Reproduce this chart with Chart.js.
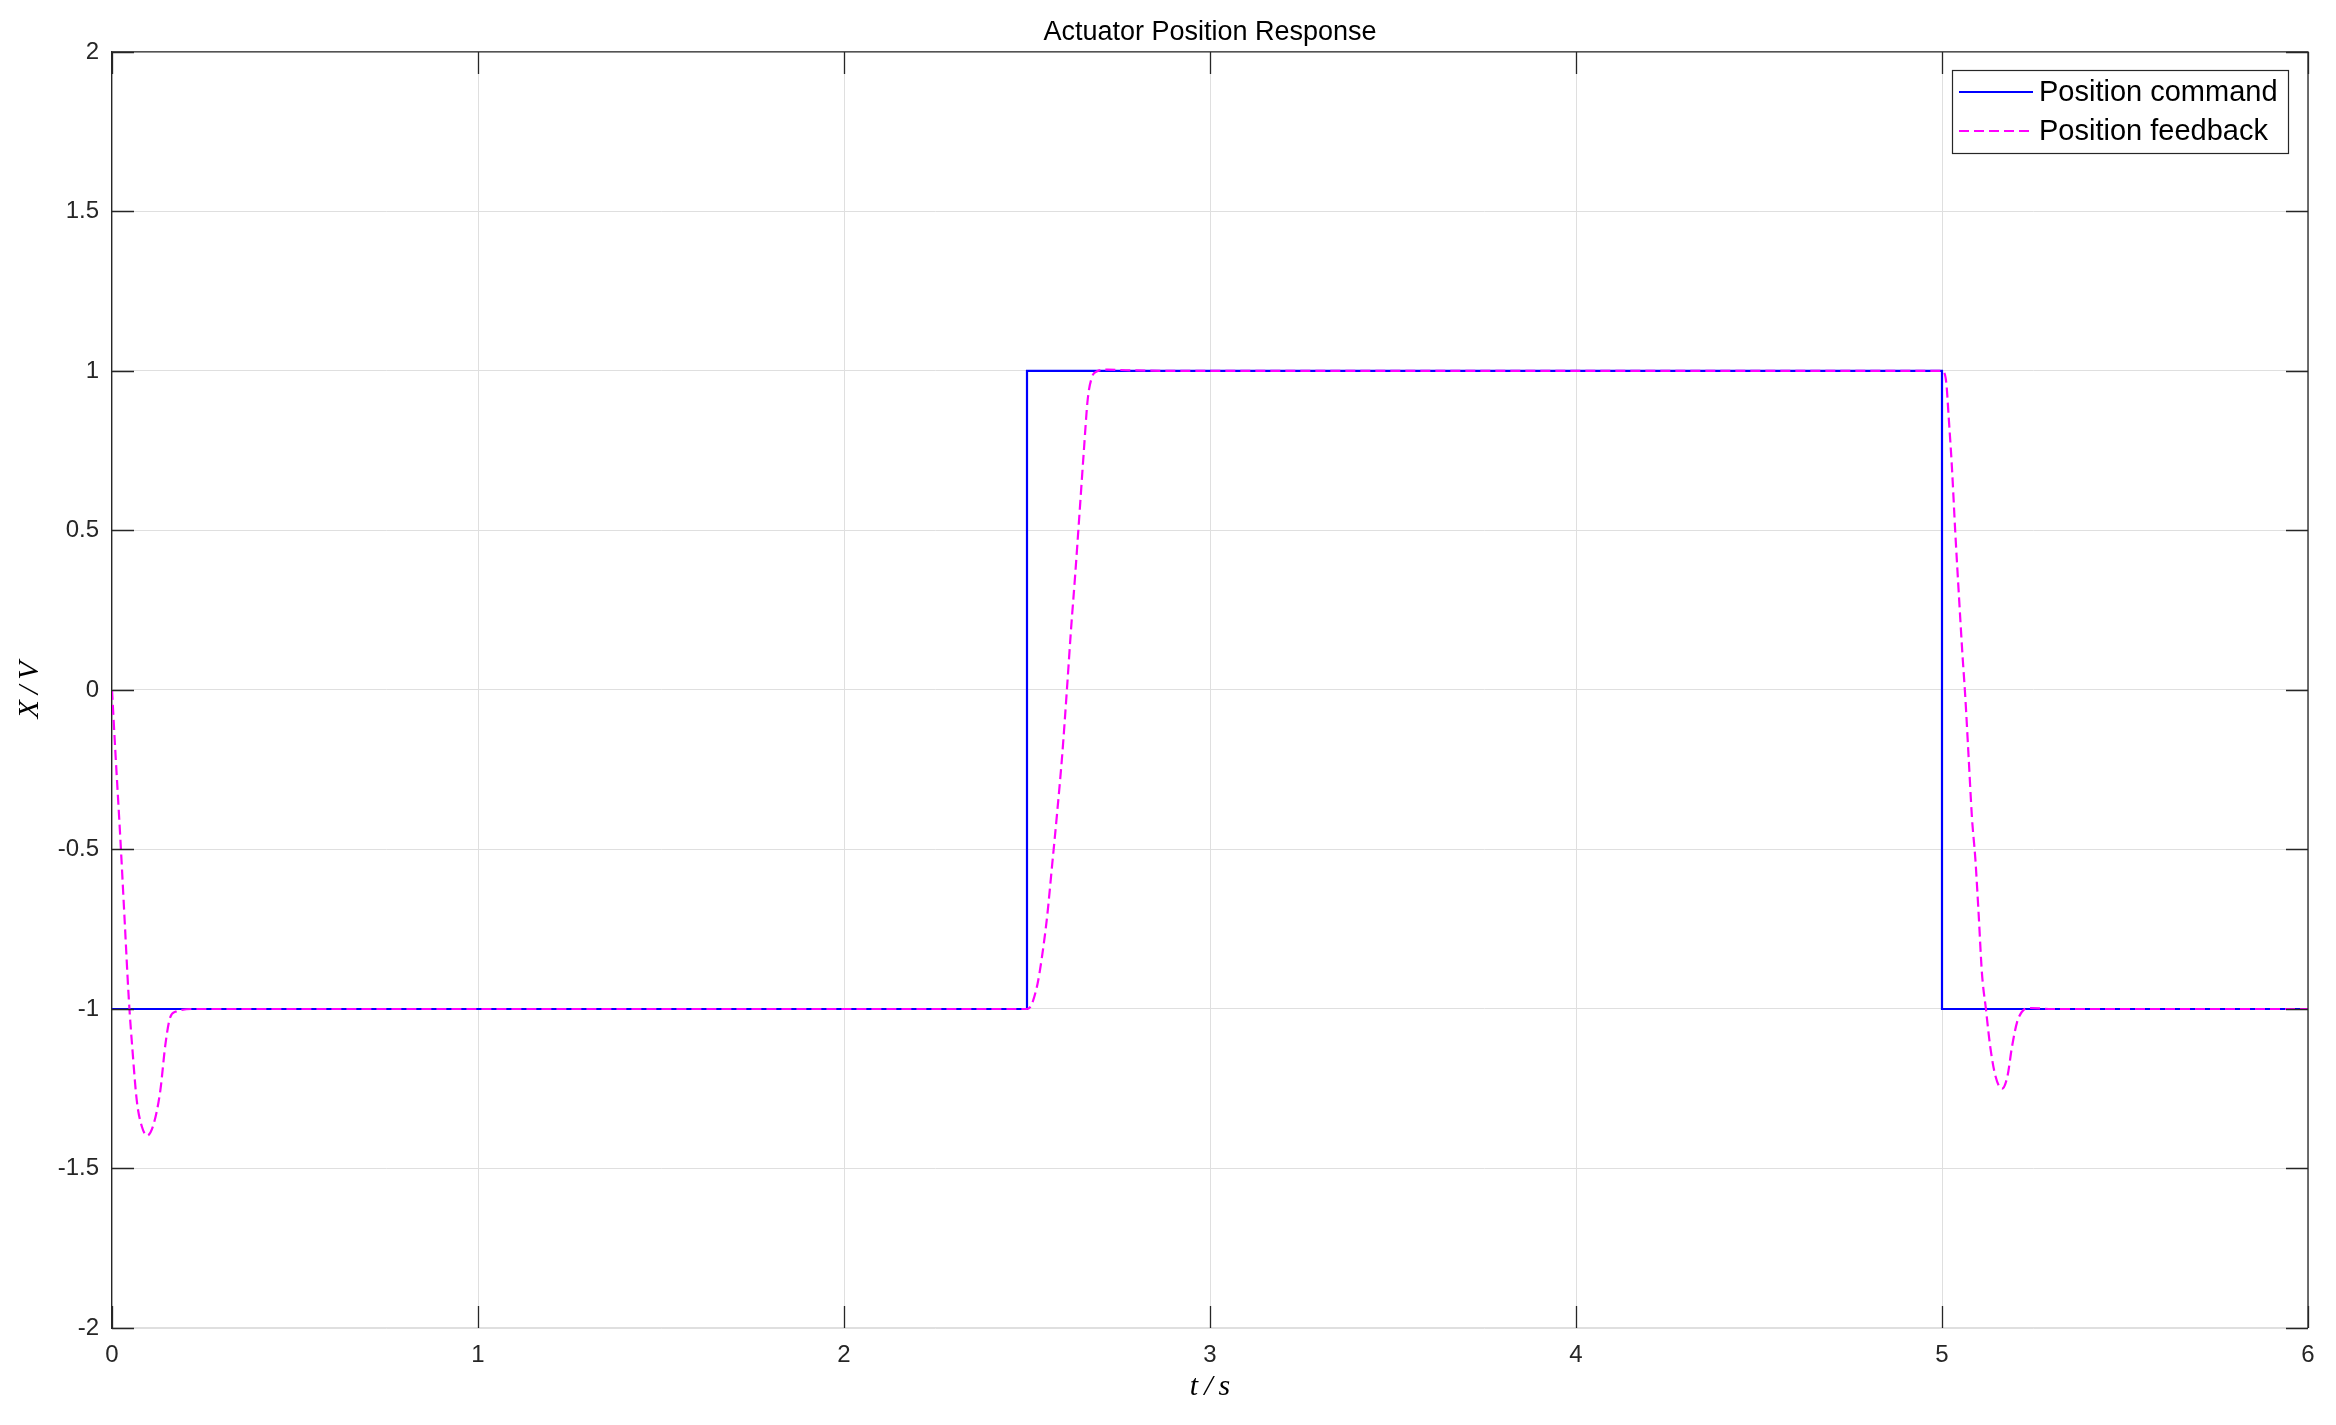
<!DOCTYPE html>
<html>
<head>
<meta charset="utf-8">
<script src="https://cdn.jsdelivr.net/npm/chart.js@4.4.1/dist/chart.umd.min.js"></script>
<style>
 body {margin:0; background:#fff;}
 canvas {display:block;}
</style>
</head>
<body>
<canvas id="canvasActuador" width="2336" height="1425"></canvas>
<script>
//Datos del grafico
const titulo = "Actuator Position Response";
const nombresSeries = ["Position command", "Position feedback"];
const ejeX = [0, 1, 2, 3, 4, 5, 6];
const ejeY = [-2, -1.5, -1, -0.5, 0, 0.5, 1, 1.5, 2];
const etiquetasY = ["-2", "-1.5", "-1", "-0.5", "0", "0.5", "1", "1.5", "2"];

//Comando (escalon)
const comandoT = [0, 2.5, 2.5, 5, 5, 6];
const comandoY = [-1, -1, 1, 1, -1, -1];

//Respuesta medida
const respuestaT = [0, 0.009, 0.023, 0.034, 0.046, 0.056, 0.068, 0.082, 0.096, 0.114, 0.132, 0.146, 0.159, 0.175, 0.19, 0.22,
 2.5, 2.508, 2.516, 2.529, 2.541, 2.555, 2.568, 2.582, 2.596, 2.609, 2.62, 2.632, 2.644, 2.655, 2.666, 2.678, 2.69, 2.72, 2.78, 2.9,
 5.0, 5.006, 5.012, 5.018, 5.027, 5.036, 5.046, 5.055, 5.064, 5.073, 5.082, 5.091, 5.1, 5.109, 5.12, 5.132, 5.146, 5.164, 5.179, 5.191, 5.205, 5.223, 5.24, 5.3, 6.0];
const respuestaY = [0, -0.19, -0.47, -0.71, -0.97, -1.13, -1.29, -1.37, -1.397, -1.36, -1.256, -1.11, -1.026, -1.008, -1.003, -1.0,
 -1.0, -0.995, -0.976, -0.92, -0.836, -0.71, -0.557, -0.389, -0.207, 0.0, 0.185, 0.366, 0.562, 0.744, 0.912, 0.982, 0.998, 1.004, 1.002, 1.0,
 1.0, 0.995, 0.96, 0.86, 0.70, 0.50, 0.30, 0.127, -0.029, -0.216, -0.403, -0.528, -0.70, -0.886, -1.0, -1.12, -1.21, -1.25, -1.21, -1.12, -1.042, -1.003, -0.997, -1.0, -1.0];

const colorComando = "#0000ff";
const colorRespuesta = "#ff00ff";
const colorEjes = "#262626";
const colorGrid = "#dfdfdf";

Chart.defaults.font.family = "'Liberation Sans', Arial, sans-serif";
Chart.defaults.color = colorEjes;

//Junta x e y en puntos
function armarPuntos(xs, ys) {
 let puntos = [];
 for (let i = 0; i < xs.length; i++) {
  puntos.push({x: xs[i], y: ys[i]});
 }
 return puntos;
}

//Plugin para el recuadro, ticks hacia adentro y la leyenda (estilo matlab)
const estiloMatlab = {
 id: "estiloMatlab",
 beforeDraw(chart) {
  //Centro el titulo sobre el area del grafico
  const tb = chart.titleBlock;
  if (tb) {
   tb.left = chart.chartArea.left;
   tb.right = chart.chartArea.right;
   tb.width = tb.right - tb.left;
  }
 },
 afterDraw(chart) {
  const ctx = chart.ctx;
  const a = chart.chartArea;
  const sx = chart.scales.x;
  const sy = chart.scales.y;
  const largo = 22;
  ctx.save();
  ctx.strokeStyle = colorEjes;
  ctx.lineWidth = 1.3;
  //Recuadro arriba y derecha
  ctx.beginPath();
  ctx.moveTo(a.left, a.top);
  ctx.lineTo(a.right, a.top);
  ctx.lineTo(a.right, a.bottom);
  ctx.stroke();
  //Ticks
  ctx.beginPath();
  ejeX.forEach(v => {
   const px = Math.round(sx.getPixelForValue(v)) + 0.5;
   ctx.moveTo(px, a.bottom); ctx.lineTo(px, a.bottom - largo);
   ctx.moveTo(px, a.top); ctx.lineTo(px, a.top + largo);
  });
  ejeY.forEach(v => {
   const py = Math.round(sy.getPixelForValue(v)) + 0.5;
   ctx.moveTo(a.left, py); ctx.lineTo(a.left + largo, py);
   ctx.moveTo(a.right, py); ctx.lineTo(a.right - largo, py);
  });
  ctx.stroke();

  //Leyenda
  const bx = 1952, by = 70, bw = 336, bh = 83;
  ctx.fillStyle = "#ffffff";
  ctx.fillRect(bx, by, bw, bh);
  ctx.lineWidth = 1.2;
  ctx.strokeRect(bx + 0.5, by + 0.5, bw, bh);
  ctx.font = "29px 'Liberation Sans', Arial, sans-serif";
  ctx.textBaseline = "middle";
  ctx.textAlign = "left";
  chart.data.datasets.forEach((ds, i) => {
   const fy = by + 22 + i * 39;
   ctx.beginPath();
   ctx.strokeStyle = ds.borderColor;
   ctx.lineWidth = 2;
   ctx.setLineDash(ds.borderDash || []);
   ctx.moveTo(bx + 7, fy);
   ctx.lineTo(bx + 81, fy);
   ctx.stroke();
   ctx.setLineDash([]);
   ctx.fillStyle = "#000000";
   ctx.fillText(ds.label, bx + 87, fy + 1);
  });
  ctx.restore();
 }
};

//Render del grafico
function renderGrafico() {
 const canvas = document.getElementById("canvasActuador");
 new Chart(canvas, {
  type: "line",
  data: {
   datasets: [{
    label: nombresSeries[0],
    data: armarPuntos(comandoT, comandoY),
    borderColor: colorComando,
    borderWidth: 2.2,
    pointRadius: 0,
    tension: 0,
    order: 1
   }, {
    label: nombresSeries[1],
    data: armarPuntos(respuestaT, respuestaY),
    borderColor: colorRespuesta,
    borderWidth: 2.2,
    borderDash: [10, 5],
    pointRadius: 0,
    cubicInterpolationMode: "monotone",
    order: 0
   }]
  },
  options: {
   responsive: false,
   animation: false,
   devicePixelRatio: 1,
   layout: {padding: {left: 0, right: 28, top: 0, bottom: 0}},
   plugins: {
    legend: {display: false},
    tooltip: {enabled: false},
    title: {
     display: true,
     text: titulo,
     color: "#000000",
     font: {size: 27, weight: "normal"},
     padding: {top: 16, bottom: 3.5}
    }
   },
   scales: {
    x: {
     type: "linear",
     min: 0,
     max: 6,
     afterBuildTicks: s => { s.ticks = ejeX.map(v => ({value: v})); },
     afterFit: s => { s.height = 97; },
     ticks: {font: {size: 24}, padding: 13, callback: v => String(v), maxRotation: 0},
     grid: {color: colorGrid, lineWidth: 1, drawTicks: false},
     border: {color: colorGrid, width: 1.3},
     title: {
      display: true,
      text: "t\u2009/\u2009s",
      font: {family: "'Liberation Serif', 'DejaVu Serif', serif", style: "italic", size: 30},
      padding: {top: 0, bottom: 20},
      color: "#000000"
     }
    },
    y: {
     min: -2,
     max: 2,
     afterBuildTicks: s => { s.ticks = ejeY.map(v => ({value: v})); },
     afterFit: s => { s.width = 112; },
     ticks: {font: {size: 24}, padding: 13, callback: (v, i) => etiquetasY[i]},
     grid: {color: colorGrid, lineWidth: 1, drawTicks: false},
     border: {color: colorEjes, width: 1.3},
     title: {
      display: true,
      text: "X\u2009/\u2009V",
      font: {family: "'Liberation Serif', 'DejaVu Serif', serif", style: "italic", size: 30},
      padding: {top: 12, bottom: 0},
      color: "#000000"
     }
    }
   }
  },
  plugins: [estiloMatlab]
 });
}

renderGrafico();
</script>
</body>
</html>
